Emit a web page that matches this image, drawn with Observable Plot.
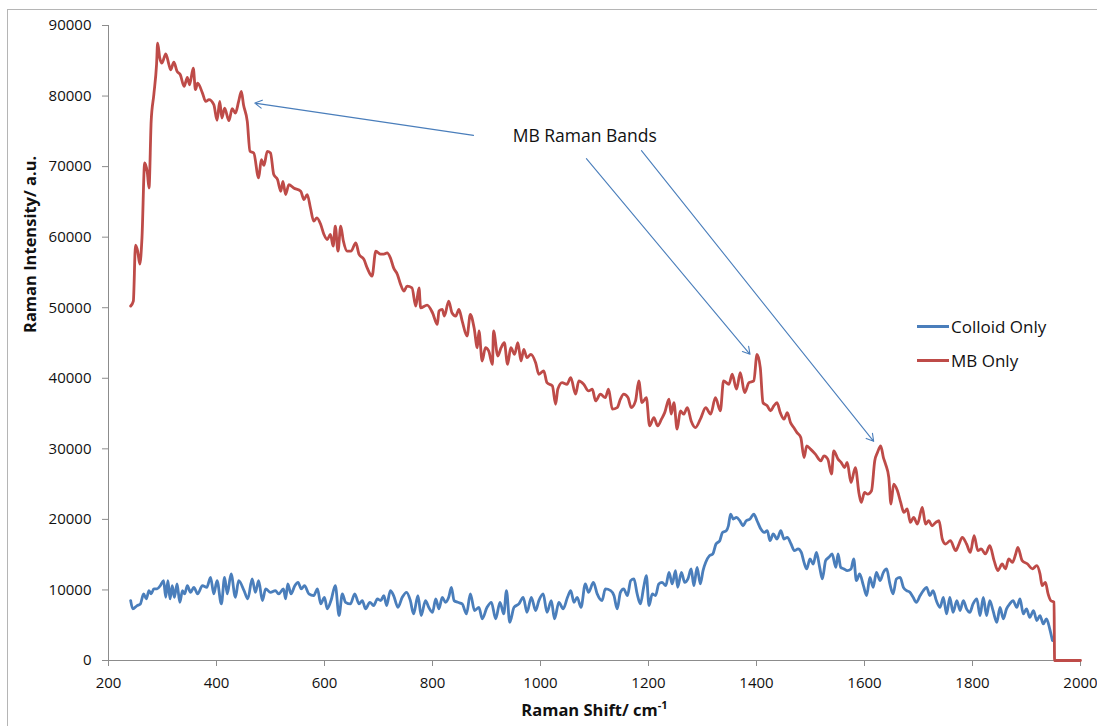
<!DOCTYPE html>
<html>
<head>
<meta charset="utf-8">
<script src="https://cdn.jsdelivr.net/npm/d3@7"></script>
<script src="https://cdn.jsdelivr.net/npm/@observablehq/plot@0.6"></script>
<style>
  body { margin: 0; background: #fff; }
  #chart { position: relative; width: 1097px; height: 726px; overflow: hidden; font-family: "Open Sans", sans-serif; }
  #frame { position: absolute; left: 7px; top: 9px; width: 1200px; height: 800px; border: 1px solid #b5b5b5; box-sizing: border-box; pointer-events: none; }
  #chart svg g[aria-label="x-axis tick"], #chart svg g[aria-label="y-axis tick"] { stroke: #8c8c8c; }
  .legend-row { position: absolute; left: 917px; height: 24px; display: flex; align-items: center; font-size: 17px; color: #111; white-space: nowrap; }
  .legend-row .swatch { width: 32px; height: 3px; margin-right: 2px; }
</style>
</head>
<body>
<div id="chart"></div>
<script>
// Raman spectra: wavenumber shift (cm^-1) and intensity (a.u.)
const colloidShift = [241,245,253,259,265,270,275,279,284,290,296,302,306,310,314,318,322,327,332,337,341,346,352,358,365,374,382,389,395,401,409,415,420,427,435,441,451,458,466,472,478,485,491,500,509,515,524,528,532,538,545,551,557,563,571,580,587,593,600,605,612,620,627,633,639,648,656,664,670,676,684,691,698,704,710,715,722,728,736,744,752,759,765,773,779,787,793,800,806,812,818,824,830,835,840,847,855,863,870,878,886,892,901,909,917,925,932,937,943,951,960,968,975,983,991,997,1005,1012,1020,1026,1034,1042,1050,1056,1062,1068,1075,1083,1089,1098,1105,1114,1120,1130,1136,1142,1148,1154,1161,1167,1173,1179,1185,1191,1196,1201,1207,1213,1219,1225,1232,1238,1244,1250,1254,1261,1267,1273,1279,1284,1290,1296,1301,1306,1313,1319,1325,1332,1337,1344,1348,1352,1357,1363,1369,1375,1381,1388,1395,1401,1408,1414,1420,1425,1431,1438,1445,1451,1457,1464,1470,1477,1483,1488,1493,1499,1505,1511,1517,1522,1528,1534,1540,1547,1551,1556,1562,1568,1575,1580,1585,1591,1598,1604,1610,1616,1622,1629,1635,1641,1647,1653,1659,1666,1672,1678,1684,1690,1696,1703,1709,1715,1721,1727,1733,1740,1746,1752,1758,1764,1771,1777,1783,1789,1795,1801,1808,1814,1820,1826,1832,1838,1845,1851,1857,1863,1869,1875,1882,1888,1894,1900,1906,1913,1919,1925,1931,1937,1943,1948];
const colloidIntensity = [8490,7320,7780,8020,9440,8730,9910,9440,10150,10150,10610,11320,8960,11320,8730,10610,8960,10850,8250,9910,9440,10610,9660,10370,9440,10610,10370,11790,9440,11320,8020,11790,9440,12270,8960,11320,9910,8730,11560,9660,11320,8490,10150,9660,9910,9440,10150,8730,10850,9440,10610,11080,10150,10610,9440,9200,10150,8020,8960,7320,8490,10610,6370,9440,8250,8020,9440,8020,8490,7320,8250,7780,8730,8490,9200,7780,9910,9200,7540,8960,9660,8490,6610,9200,6370,8490,7540,6830,8730,7320,8960,8250,8960,10370,8490,8250,8020,6610,9440,7080,7540,5900,7540,8250,5900,8250,6610,9910,5420,7540,8020,8960,6830,8960,7080,8490,9440,6830,8490,5900,8250,7320,8960,9910,8250,8960,7540,10850,9660,11080,9440,8490,10150,9910,9200,7320,9660,10150,9200,11320,11560,9440,8020,10370,12030,7780,9440,9200,10850,11080,10610,12490,10850,12740,10370,12490,11080,11560,12980,10610,13200,10850,12740,13910,14860,15100,16510,16980,18150,18400,19100,20760,20050,20280,19810,19100,19810,20050,20760,19810,18640,18150,18400,16980,17930,17220,18400,17220,17450,16510,15570,15810,15320,13910,12980,14390,13680,15320,13200,11560,14150,14620,15100,13200,15100,13200,12980,12740,12980,14390,11320,12270,10610,9200,11790,10370,12490,11320,12490,12980,10850,9440,11560,11790,10370,9910,9660,8960,8250,9200,9910,10370,9200,9910,8490,7540,8960,6610,8960,6830,8490,7080,8490,7320,6830,8020,8730,6370,8960,6370,8490,7080,5420,7540,5900,7320,8020,8490,7540,8730,6610,7320,6130,7080,5660,6370,5190,5900,4490,2830];

const mbShift = [241,246,250,254,258,262,267,272,275,279,284,289,291,295,299,306,312,315,321,327,333,340,346,350,357,361,365,374,380,386,395,401,406,410,415,423,429,435,441,446,450,457,462,469,478,483,488,494,500,506,513,519,523,528,534,543,556,562,568,574,580,586,593,599,605,611,616,620,625,630,635,642,649,658,664,673,679,688,695,704,710,716,722,728,735,741,747,753,762,769,775,778,790,800,809,812,818,822,830,836,843,849,855,864,870,877,883,886,892,898,904,911,913,921,927,933,939,945,952,958,964,969,975,982,991,997,1006,1012,1022,1028,1032,1040,1049,1056,1065,1071,1080,1089,1096,1102,1111,1120,1126,1133,1142,1148,1154,1162,1168,1176,1182,1188,1196,1202,1210,1217,1224,1230,1238,1242,1247,1253,1259,1265,1272,1279,1287,1296,1306,1315,1324,1333,1339,1349,1355,1363,1370,1378,1386,1395,1401,1407,1412,1420,1426,1432,1438,1444,1451,1457,1463,1469,1475,1482,1488,1493,1500,1509,1519,1525,1532,1539,1543,1551,1557,1563,1568,1575,1583,1590,1594,1600,1606,1613,1619,1624,1630,1635,1639,1645,1649,1654,1661,1667,1673,1679,1685,1691,1698,1707,1713,1719,1725,1732,1738,1744,1750,1759,1769,1775,1781,1789,1796,1803,1810,1816,1824,1832,1840,1847,1855,1861,1867,1874,1880,1884,1892,1902,1911,1919,1925,1929,1935,1940,1945,1951,1952,2000];
const mbIntensity = [50230,50940,58860,58020,56180,59900,70510,69100,66970,76410,80230,84480,87490,85370,84660,85990,84430,83720,84800,83490,83020,81360,82640,81600,83950,80900,81830,80420,79240,79480,78770,76550,79240,76880,78290,76510,78210,77590,79240,80660,78770,76410,72170,71930,68390,70990,70180,72170,71930,68870,68160,66500,67920,66040,67450,66970,66500,65330,66040,64140,62260,62730,61790,60380,59670,60380,58720,61550,58020,61550,59430,58020,58020,59190,57550,56840,55650,54480,58020,57590,57590,57770,57070,55650,54720,53300,52360,53060,52820,50230,52820,49990,50370,49290,47640,49530,49760,48820,50940,49290,48820,49760,48110,45990,49060,47160,44330,46700,42450,44330,43870,41980,46700,43160,44330,45040,41980,44330,43400,45040,42450,44110,42920,43400,42210,40570,41040,39380,38910,36320,38450,39380,39150,40090,37740,39620,39150,38210,38450,36790,37740,37260,38450,35620,35840,37030,37740,37260,35840,36790,39620,36550,37260,33250,34430,33250,34200,35130,37030,34910,36550,32790,35380,34910,35840,33960,33010,34200,35840,34910,37260,35380,39620,39150,40570,38450,40790,37960,39380,39620,43400,41500,36550,36080,35380,36080,36550,35130,34200,35130,33720,33010,32300,31600,28770,30420,29960,29250,28300,29010,28540,26420,29720,28540,28060,27350,28060,25230,27350,23590,22400,23810,23590,24060,28300,29470,30420,28770,27830,25940,22170,25000,24060,22400,20980,21470,19570,20280,19340,21690,19340,19810,19100,19570,19810,17220,16510,16980,15570,16510,17450,16510,15320,17690,15570,15810,15100,16270,14150,12740,13680,12980,14390,13910,15100,16030,14150,13680,12980,13440,12270,10610,11080,9440,8490,8250,0,0];

// Axis ticks
const shiftTicks = [200, 400, 600, 800, 1000, 1200, 1400, 1600, 1800, 2000];
const intensityTicks = [0, 10000, 20000, 30000, 40000, 50000, 60000, 70000, 80000, 90000];

// Annotation: label plus arrows pointing at the MB bands
const bandLabel = ["MB Raman Bands"];
const bandLabelShift = [1082];
const bandLabelIntensity = [74300];
const arrowFromShift = [876, 1085, 1187];
const arrowFromIntensity = [74430, 71130, 72260];
const arrowToShift = [471, 1388, 1617];
const arrowToIntensity = [79000, 43400, 31060];

const seriesNames = ["Colloid Only", "MB Only"];
const seriesColors = ["#4a7ebb", "#be4b48"];

const colloid = colloidShift.map((s, i) => ({shift: s, intensity: colloidIntensity[i]}));
const mb = mbShift.map((s, i) => ({shift: s, intensity: mbIntensity[i]}));
const arrows = arrowFromShift.map((s, i) => ({
  x1: s, y1: arrowFromIntensity[i], x2: arrowToShift[i], y2: arrowToIntensity[i]
}));
const labels = bandLabel.map((t, i) => ({text: t, shift: bandLabelShift[i], intensity: bandLabelIntensity[i]}));

const xTitle = "Raman Shift/ cm-1";
const yTitle = "Raman Intensity/ a.u.";

const chart = Plot.plot({
  width: 1097,
  height: 726,
  marginLeft: 108,
  marginRight: 17,
  marginTop: 25,
  marginBottom: 66,
  style: {fontFamily: "Open Sans, sans-serif", fontSize: "15px", color: "#111", background: "transparent"},
  x: {domain: [200, 2000], ticks: shiftTicks, tickSize: 6, tickPadding: 11, tickFormat: d3.format("d"), label: null},
  y: {domain: [0, 90000], ticks: intensityTicks, tickSize: 6, tickPadding: 11, tickFormat: d3.format("d"), label: null},
  marks: [
    Plot.ruleY([0], {stroke: "#8c8c8c"}),
    Plot.ruleX([200], {stroke: "#8c8c8c"}),
    Plot.line(colloid, {x: "shift", y: "intensity", stroke: seriesColors[0], strokeWidth: 2.8, curve: "monotone-x", strokeLinejoin: "round"}),
    Plot.line(mb, {x: "shift", y: "intensity", stroke: seriesColors[1], strokeWidth: 2.8, curve: "monotone-x", strokeLinejoin: "round"}),
    Plot.arrow(arrows, {x1: "x1", y1: "y1", x2: "x2", y2: "y2", stroke: "#4a7ebb", strokeWidth: 1.1, headLength: 11, headAngle: 60, bend: 0}),
    Plot.text(labels, {x: "shift", y: "intensity", text: "text", fontSize: 17.5, fill: "#111"}),
    Plot.text([yTitle], {frameAnchor: "left", rotate: -90, dx: -78, dy: -10, fontWeight: "bold", fontSize: 16.5, fill: "#111"}),
    Plot.text([xTitle], {frameAnchor: "bottom", dy: 55, fontWeight: "bold", fontSize: 16.5, fill: "#111"})
  ]
});

const root = document.getElementById("chart");
root.appendChild(chart);

// Superscript the exponent in the x-axis title
d3.select(chart).selectAll("text").filter(function () { return this.textContent === xTitle; })
  .each(function () {
    const t = d3.select(this);
    t.text("Raman Shift/ cm");
    t.append("tspan").attr("font-size", "11px").attr("dy", "-0.6em").text("-1");
  });

// Legend
const legendTops = [314, 348];
seriesNames.forEach((name, i) => {
  const row = document.createElement("div");
  row.className = "legend-row";
  row.style.top = legendTops[i] + "px";
  const sw = document.createElement("span");
  sw.className = "swatch";
  sw.style.background = seriesColors[i];
  const label = document.createElement("span");
  label.textContent = name;
  row.appendChild(sw);
  row.appendChild(label);
  root.appendChild(row);
});

const frame = document.createElement("div");
frame.id = "frame";
root.appendChild(frame);
</script>
</body>
</html>
